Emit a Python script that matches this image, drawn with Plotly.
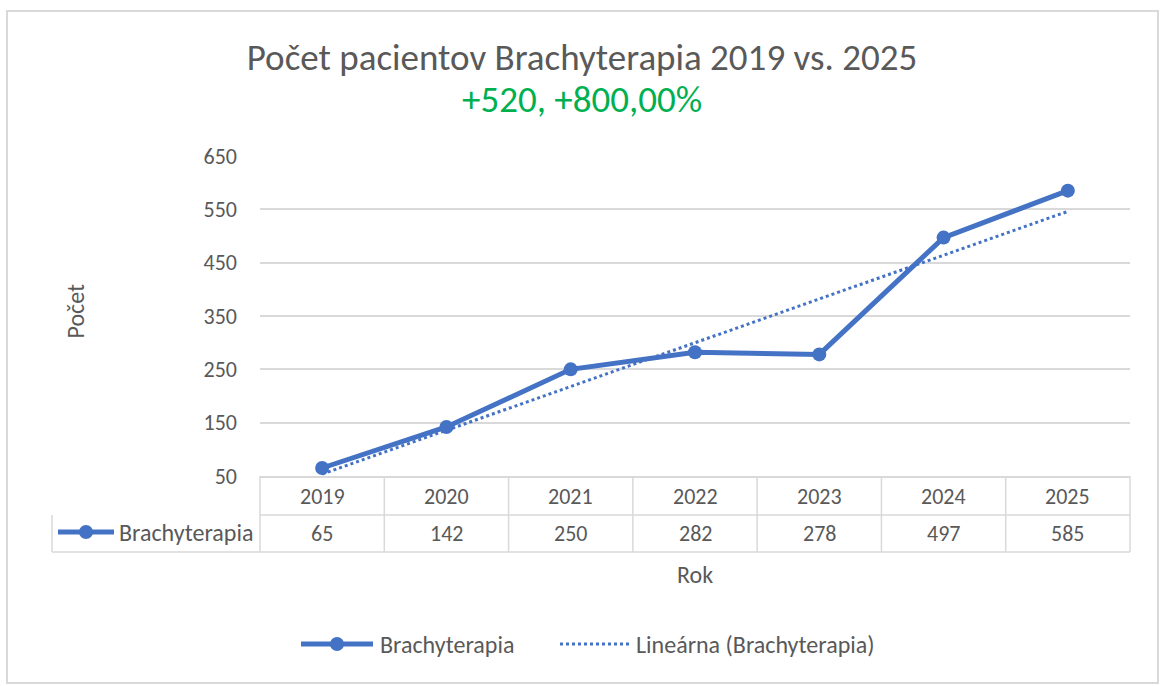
import numpy as np
import plotly.graph_objects as go

# ---- data ----
years = ["2019", "2020", "2021", "2022", "2023", "2024", "2025"]
patients = [65, 142, 250, 282, 278, 497, 585]
series_name = "Brachyterapia"
trend_name = "Lineárna (Brachyterapia)"
title_text = "Počet pacientov Brachyterapia 2019 vs. 2025"
y_title = "Počet"
x_title = "Rok"
y_ticks = [50, 150, 250, 350, 450, 550, 650]

# derived values
idx = np.arange(1, len(patients) + 1)
slope, intercept = np.polyfit(idx, patients, 1)
trend = slope * idx + intercept
diff = patients[-1] - patients[0]
pct = diff / patients[0] * 100
subtitle = f"+{diff}, +{pct:.2f}%".replace(".", ",")

BLUE = "#4472C4"
GRAY = "#595959"
GRID = "#D9D9D9"
FONT = "Calibri, Carlito, Lato, sans-serif"

W, H = 1160, 686
L, R, T, B = 260, 1130, 156, 476
PW, PH = R - L, B - T


def px(x):
    return (x - L) / PW


def py(y):
    return (B - y) / PH


fig = go.Figure()
fig.add_trace(go.Scatter(
    x=years, y=patients, name=series_name, mode="lines+markers",
    line=dict(color=BLUE, width=5), marker=dict(size=14, color=BLUE),
    cliponaxis=False, showlegend=False,
))
fig.add_trace(go.Scatter(
    x=years, y=trend, name=trend_name, mode="lines",
    line=dict(color=BLUE, width=3, dash="dot"), cliponaxis=False, showlegend=False,
))

shapes = []
line_style = dict(color=GRID, width=1.5)
row1, row2 = 515, 552
# horizontal table lines
shapes.append(dict(type="line", xref="paper", yref="paper", x0=0, x1=1, y0=py(row1), y1=py(row1), line=line_style))
shapes.append(dict(type="line", xref="paper", yref="paper", x0=px(52), x1=1, y0=py(row2), y1=py(row2), line=line_style))
shapes.append(dict(type="line", xref="paper", yref="paper", x0=px(52), x1=px(52), y0=py(row1), y1=py(row2), line=line_style))
# vertical table lines at category boundaries
for i in range(1, len(years)):
    shapes.append(dict(type="line", xref="x", yref="paper", x0=i - 0.5, x1=i - 0.5, y0=0, y1=py(row2), line=line_style))
shapes.append(dict(type="line", xref="paper", yref="paper", x0=0, x1=0, y0=0, y1=py(row2), line=line_style))
shapes.append(dict(type="line", xref="paper", yref="paper", x0=1, x1=1, y0=0, y1=py(row2), line=line_style))


def series_key(x0, x1, yc):
    xm = (x0 + x1) / 2
    shapes.append(dict(type="line", xref="paper", yref="paper", x0=px(x0), x1=px(x1), y0=py(yc), y1=py(yc),
                       line=dict(color=BLUE, width=5)))
    shapes.append(dict(type="circle", xref="paper", yref="paper", x0=px(xm - 7), x1=px(xm + 7),
                       y0=py(yc + 7), y1=py(yc - 7), fillcolor=BLUE, line=dict(color=BLUE, width=0)))


# legend key in the table
series_key(58, 114, 532)
# bottom legend keys
series_key(301, 373, 644)
shapes.append(dict(type="line", xref="paper", yref="paper", x0=px(560), x1=px(629), y0=py(644), y1=py(644),
                   line=dict(color=BLUE, width=3, dash="dot")))
# outer chart border
shapes.append(dict(type="rect", xref="paper", yref="paper", x0=px(7), x1=px(1158), y0=py(683), y1=py(11),
                   line=dict(color=GRID, width=2), layer="below"))

annotations = []
for i, (yr, v) in enumerate(zip(years, patients)):
    annotations.append(dict(x=i, xref="x", y=py(496), yref="paper", text=yr, showarrow=False,
                            font=dict(size=22, color=GRAY, family=FONT), yanchor="middle"))
    annotations.append(dict(x=i, xref="x", y=py(533), yref="paper", text=str(v), showarrow=False,
                            font=dict(size=22, color=GRAY, family=FONT), yanchor="middle"))
annotations.append(dict(x=px(117), xref="paper", y=py(532), yref="paper", text=series_name, showarrow=False,
                        xanchor="left", yanchor="middle", font=dict(size=24, color=GRAY, family=FONT)))
annotations.append(dict(x=px(378), xref="paper", y=py(644), yref="paper", text=series_name, showarrow=False,
                        xanchor="left", yanchor="middle", font=dict(size=24, color=GRAY, family=FONT)))
annotations.append(dict(x=px(634), xref="paper", y=py(644), yref="paper", text=trend_name, showarrow=False,
                        xanchor="left", yanchor="middle", font=dict(size=24, color=GRAY, family=FONT)))
annotations.append(dict(x=px(58), xref="paper", y=py(311), yref="paper", text=y_title, showarrow=False,
                        textangle=-90, font=dict(size=24, color=GRAY, family=FONT)))
annotations.append(dict(x=px(695), xref="paper", y=py(574), yref="paper", text=x_title, showarrow=False,
                        yanchor="middle", font=dict(size=24, color=GRAY, family=FONT)))
annotations.append(dict(x=px(582), xref="paper", y=py(100), yref="paper", text=subtitle, showarrow=False,
                        yanchor="middle", font=dict(size=37, color="#00B050", family=FONT)))

fig.update_layout(
    width=W, height=H, autosize=False,
    margin=dict(l=L, r=W - R, t=T, b=H - B),
    paper_bgcolor="white", plot_bgcolor="white",
    font=dict(family=FONT, color=GRAY, size=22),
    title=dict(text=title_text, x=(582 / W), xref="container", xanchor="center",
               y=1 - 57 / H, yref="container", yanchor="middle",
               font=dict(size=37, color=GRAY, family=FONT)),
    xaxis=dict(type="category", range=[-0.5, len(years) - 0.5], showgrid=False, showticklabels=False,
               showline=True, linecolor=GRID, linewidth=1.5, ticks="", zeroline=False, fixedrange=True),
    yaxis=dict(range=[y_ticks[0], y_ticks[-1]], tickvals=y_ticks, showgrid=True, gridcolor=GRID, gridwidth=1.5,
               showline=False, zeroline=False, ticks="", ticklabelstandoff=22,
               tickfont=dict(size=22, color=GRAY, family=FONT), fixedrange=True),
    showlegend=False,
    shapes=shapes,
    annotations=annotations,
)

fig.write_html("out.html", config={"displayModeBar": False},
               post_script="document.body.style.margin='0';document.body.style.overflow='hidden';")
